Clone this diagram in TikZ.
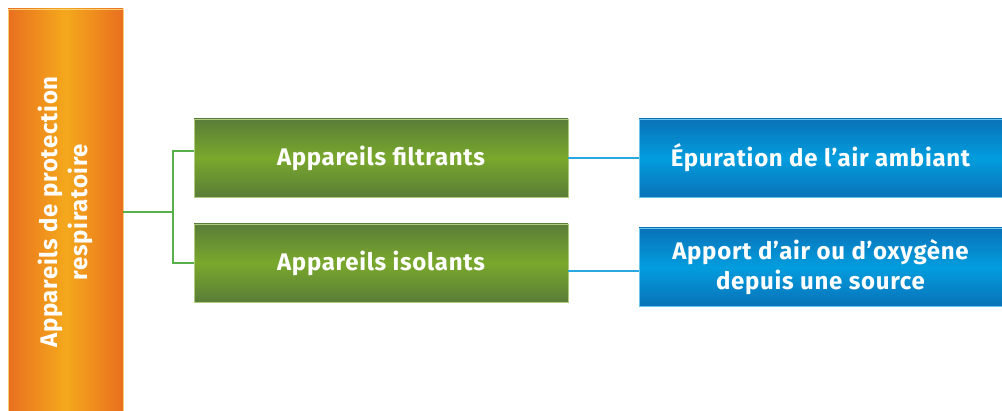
\documentclass[tikz,border=0pt]{standalone}
\usepackage{fontspec}
\setmainfont{Fira Sans}[LetterSpace=3]
\definecolor{orangeedge}{HTML}{E96F1F}
\definecolor{orangemid}{HTML}{F4A81C}
\definecolor{greenedge}{HTML}{5A7D38}
\definecolor{greenmid}{HTML}{79A82C}
\definecolor{blueedge}{HTML}{0A72B8}
\definecolor{bluemid}{HTML}{029DDE}
\definecolor{greenline}{HTML}{58B04A}
\definecolor{blueline}{HTML}{2AA9E1}

\begin{document}
\begin{tikzpicture}[x=1pt,y=-1pt,
    rootbox/.style={rectangle, minimum width=115pt, minimum height=402pt, inner sep=0pt,
        left color=orangeedge, right color=orangeedge, middle color=orangemid,
        draw=orangemid!60!white, line width=0.6pt},
    greenbox/.style={rectangle, minimum width=374pt, minimum height=78pt, inner sep=0pt,
        top color=greenedge, bottom color=greenedge, middle color=greenmid,
        draw=greenmid!60!white, line width=0.6pt, text=white, align=center,
        font=\fontsize{24}{30}\selectfont\bfseries},
    bluebox/.style={rectangle, minimum width=363pt, minimum height=78pt, inner sep=0pt,
        top color=blueedge, bottom color=blueedge, middle color=bluemid,
        draw=bluemid!60!white, line width=0.6pt, text=white, align=center,
        font=\fontsize{24}{30}\selectfont\bfseries},
    gline/.style={draw=greenline, line width=2pt},
    bline/.style={draw=blueline, line width=1.5pt}]

    \useasboundingbox (0,0) rectangle (1002,411);

    % the boxes
    \node[rootbox] (appareils) at (65.5,210) {};
    \node[rotate=90, text=white, align=center, font=\fontsize{24}{30}\selectfont\bfseries]
        (appareilstxt) at (65.5,212) {Appareils de protection\\respiratoire};

    \node[greenbox] (filtrants) at (381,158) {Appareils filtrants};
    \node[greenbox] (isolants) at (381,263) {Appareils isolants};

    \node[bluebox] (epuration) at (820.5,158) {Épuration de l’air ambiant};
    \node[bluebox] (apport) at (820.5,267) {Apport d’air ou d’oxygène\\depuis une source};

    % the connectors
    \coordinate (fork) at (173,212);
    \draw[gline] (appareils.east |- fork) -- (fork);
    \draw[gline] ([yshift=7pt]filtrants.west) -| (fork) |- (isolants.west);

    \draw[bline] (filtrants.east) -- (epuration.west);
    \draw[bline] ([yshift=-8pt]isolants.east) -- ([yshift=-4pt]apport.west);

\end{tikzpicture}
\end{document}
